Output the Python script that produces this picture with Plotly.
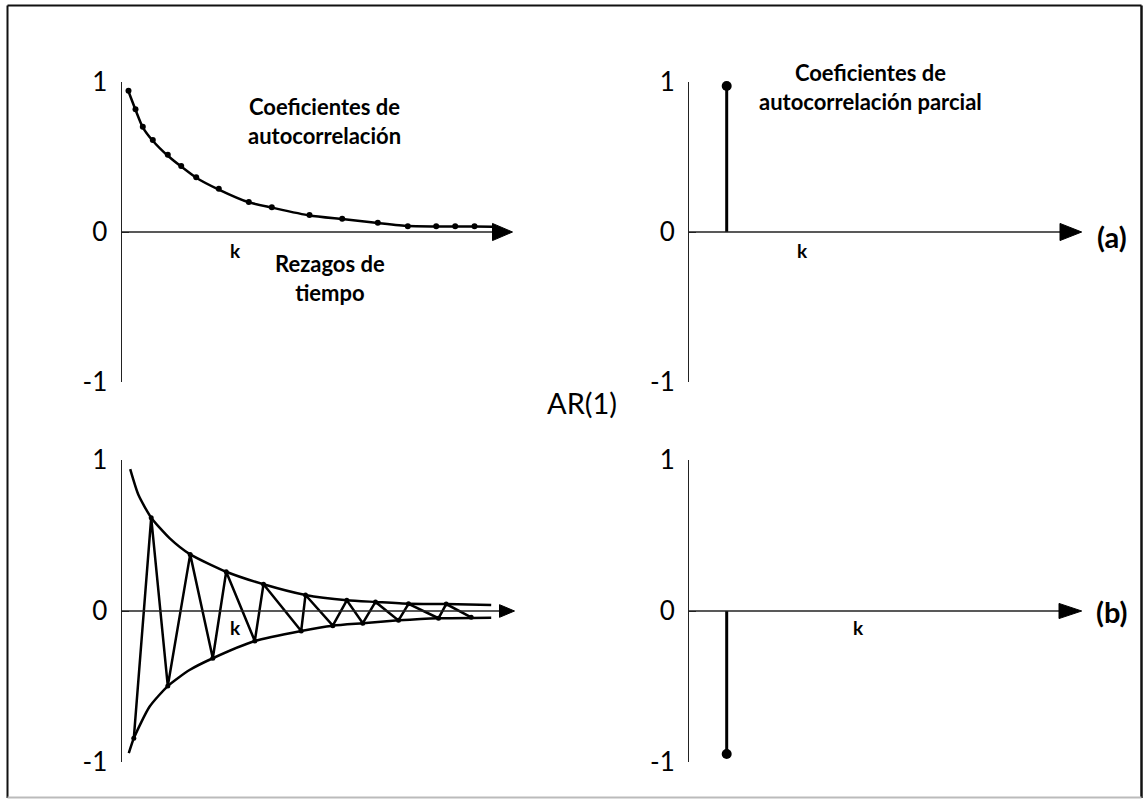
import plotly.graph_objects as go

W, H = 1144, 799

# ---------------- data (x = lag position, y = coefficient) ----------------
# (a) AR(1) with positive coefficient: ACF dots and decay curve
acf_a_x = [7, 14, 21.3, 31.3, 46.3, 59.7, 74.7, 97.3, 127.3, 150.3, 188, 220.7, 256.3, 286.3, 314.7, 333.7, 353]
acf_a_y = [0.942, 0.818, 0.702, 0.613, 0.515, 0.44, 0.365, 0.289, 0.2, 0.165, 0.113, 0.089, 0.062, 0.038, 0.038, 0.038, 0.038]
curve_a_x = [6, 14, 21.3, 31.3, 46.3, 59.7, 74.7, 97.3, 127.3, 150.3, 188, 220.7, 256.3, 286.3, 314.7, 333.7, 353, 371]
curve_a_y = [0.955, 0.815, 0.698, 0.608, 0.508, 0.436, 0.362, 0.283, 0.198, 0.163, 0.11, 0.086, 0.06, 0.04, 0.037, 0.036, 0.036, 0.035]
pacf_a_x = [37.7]
pacf_a_y = [0.973]

# (b) AR(1) with negative coefficient: envelopes and oscillating ACF
upper_b_x = [8.7, 17, 29.7, 48, 68.7, 104.7, 142, 184, 225.3, 254, 287, 324.7, 369.7]
upper_b_y = [0.94, 0.768, 0.618, 0.483, 0.375, 0.26, 0.177, 0.106, 0.071, 0.06, 0.048, 0.046, 0.04]
lower_b_x = [7.3, 12.3, 28, 46.3, 68, 91.3, 133.3, 179.7, 211.3, 241.3, 277, 317, 369.7]
lower_b_y = [-0.942, -0.843, -0.634, -0.497, -0.391, -0.313, -0.199, -0.132, -0.097, -0.081, -0.062, -0.048, -0.044]
acf_b_x = [12.3, 29.7, 46.3, 68.7, 91.3, 104.7, 133.3, 142, 179.7, 184, 211.3, 225.3, 241.3, 254, 277, 287, 317, 324.7, 349.7]
acf_b_y = [-0.843, 0.618, -0.497, 0.375, -0.313, 0.26, -0.199, 0.177, -0.132, 0.106, -0.097, 0.071, -0.081, 0.06, -0.062, 0.048, -0.048, 0.046, -0.042]
pacf_b_x = [37.7]
pacf_b_y = [-0.947]

y_ticks = [-1, 0, 1]
y_ticktext = ["-1", "0", "1"]

# horizontal axis: end of line (arrow base) and arrow tip, arrow half height
arrow_specs = {
    "": (371, 391, 0.057),
    "2": (371, 392.7, 0.057),
    "3": (378, 393, 0.042),
    "4": (370, 392.7, 0.05),
}

# ---------------- layout helpers ----------------
def fx(px):
    return px / W

def fy(py):
    return 1 - py / H

XRANGE = [0, 400]
panels = {
    "": dict(x0=121.5, y_top=82, y_bot=382),
    "2": dict(x0=689, y_top=82, y_bot=382),
    "3": dict(x0=121.5, y_top=460, y_bot=762),
    "4": dict(x0=689, y_top=460, y_bot=762),
}

fig = go.Figure()
BLACK = "#000000"

def add_line(x, y, ax, width=2.5, shape="linear", markers=False, msize=5):
    fig.add_trace(go.Scatter(
        x=x, y=y, xaxis="x" + ax, yaxis="y" + ax,
        mode="lines+markers" if markers else "lines",
        line=dict(color=BLACK, width=width, shape=shape, smoothing=0.6),
        marker=dict(color=BLACK, size=msize),
        showlegend=False, hoverinfo="skip", cliponaxis=False))

def add_dots(x, y, ax, size=6):
    fig.add_trace(go.Scatter(
        x=x, y=y, xaxis="x" + ax, yaxis="y" + ax, mode="markers",
        marker=dict(color=BLACK, size=size),
        showlegend=False, hoverinfo="skip", cliponaxis=False))

def add_stem(x, y, ax):
    for xi, yi in zip(x, y):
        fig.add_trace(go.Scatter(
            x=[xi, xi], y=[0, yi], xaxis="x" + ax, yaxis="y" + ax, mode="lines",
            line=dict(color=BLACK, width=3),
            showlegend=False, hoverinfo="skip", cliponaxis=False))
    add_dots(x, y, ax, size=10)

# panel (a) left
add_line(curve_a_x, curve_a_y, "", width=2.5, shape="spline")
add_dots(acf_a_x, acf_a_y, "", size=6)
# panel (a) right
add_stem(pacf_a_x, pacf_a_y, "2")
# panel (b) left
add_line(upper_b_x, upper_b_y, "3", width=2.5, shape="spline")
add_line(lower_b_x, lower_b_y, "3", width=2.5, shape="spline")
add_line(acf_b_x, acf_b_y, "3", width=2.5, markers=True, msize=5)
# panel (b) right
add_stem(pacf_b_x, pacf_b_y, "4")

layout = dict(
    template="none",
    width=W, height=H, autosize=False,
    margin=dict(l=0, r=0, t=0, b=0, pad=0),
    paper_bgcolor="white", plot_bgcolor="rgba(0,0,0,0)",
    showlegend=False,
)
shapes = []
for key, p in panels.items():
    x0 = p["x0"]
    layout["xaxis" + key] = dict(
        domain=[fx(x0), fx(x0 + 400)], range=XRANGE, visible=False,
        anchor="y" + key, fixedrange=True, automargin=False)
    layout["yaxis" + key] = dict(
        domain=[fy(p["y_bot"]), fy(p["y_top"])], range=[-1, 1],
        anchor="x" + key, showgrid=False, zeroline=False, automargin=False,
        showline=True, linecolor="#222222", linewidth=1,
        ticks="inside", ticklen=7, tickcolor="#222222", tickwidth=1,
        tickvals=y_ticks, ticktext=y_ticktext,
        tickfont=dict(family="Lato", size=26, color=BLACK),
        ticklabelstandoff=8, fixedrange=True)
    xa = "x" + key
    ya = "y" + key
    base, tip, hh = arrow_specs[key]
    shapes.append(dict(type="line", xref=xa, yref=ya, x0=0, x1=base, y0=0, y1=0,
                       line=dict(color="#222222", width=1.5)))
    shapes.append(dict(type="path", xref=xa, yref=ya,
                       path=f"M {base},{hh} L {tip},0 L {base},{-hh} Z",
                       fillcolor=BLACK, line=dict(color=BLACK, width=1)))

# outer border
shapes.append(dict(type="line", xref="paper", yref="paper", x0=fx(7.5), x1=fx(7.5), y0=fy(798), y1=fy(5.5),
                   line=dict(color="#111111", width=2)))
shapes.append(dict(type="line", xref="paper", yref="paper", x0=fx(7.5), x1=fx(1141.5), y0=fy(5.5), y1=fy(5.5),
                   line=dict(color="#111111", width=2)))
shapes.append(dict(type="line", xref="paper", yref="paper", x0=fx(1141.5), x1=fx(1141.5), y0=fy(5.5), y1=fy(798),
                   line=dict(color="#111111", width=2.5)))
shapes.append(dict(type="line", xref="paper", yref="paper", x0=fx(7.5), x1=fx(1141.5), y0=fy(797.5), y1=fy(797.5),
                   line=dict(color="#bbbbbb", width=2)))
layout["shapes"] = shapes

def ann(text, px, py, size=22, bold=True):
    return dict(text=text, x=fx(px), y=fy(py), xref="paper", yref="paper",
                xanchor="center", yanchor="middle", showarrow=False,
                font=dict(family="Lato", size=size, color=BLACK,
                          weight=700 if bold else 400))

layout["annotations"] = [
    ann("Coeficientes de<br>autocorrelación", 324.5, 121),
    ann("k", 235, 251, size=19),
    ann("Rezagos de<br>tiempo", 330, 278),
    ann("Coeficientes de<br>autocorrelación parcial", 870, 87),
    ann("k", 802, 251, size=19),
    ann("(a)", 1111.5, 236, size=29),
    ann("AR(1)", 582, 402, size=29, bold=False),
    ann("k", 235, 627, size=19),
    ann("k", 858, 627, size=19),
    ann("(b)", 1112, 611, size=29),
]

fig.update_layout(**layout)
fig.write_html("out.html")
